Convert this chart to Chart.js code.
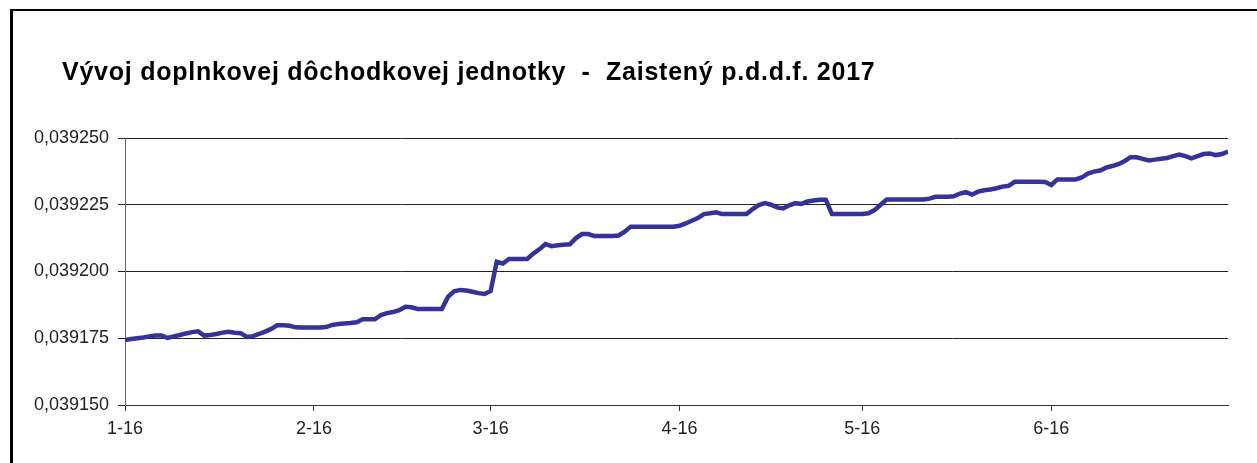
<!DOCTYPE html>
<html>
<head>
<meta charset="utf-8">
<script src="https://cdn.jsdelivr.net/npm/chart.js@4.4.1/dist/chart.umd.min.js"></script>
<style>
  html, body { margin: 0; padding: 0; background: #fff; }
  #wrap { position: relative; width: 1257px; height: 463px; overflow: hidden; }
  #frame { position: absolute; left: 10px; top: 9px; width: 1400px; height: 600px;
           border-left: 3px solid #000; border-top: 2px solid #000; pointer-events: none; }
</style>
</head>
<body>
<div id="wrap">
  <canvas id="chart" width="1257" height="463"></canvas>
  <div id="frame"></div>
</div>
<script>
/* Hodnota dôchodkovej jednotky, denne od 1.1.2016 do 30.6.2016 */
const chartTitle = 'Vývoj doplnkovej dôchodkovej jednotky  -  Zaistený p.d.d.f. 2017';
const monthLabels = ['1-16', '2-16', '3-16', '4-16', '5-16', '6-16'];
const yTicks = [0.03915, 0.039175, 0.0392, 0.039225, 0.03925];

const janValues = [
  0.0391743, 0.0391747, 0.0391750, 0.0391753, 0.0391757, 0.0391760, 0.0391760, 0.0391751,
  0.0391757, 0.0391762, 0.0391768, 0.0391773, 0.0391776, 0.0391760, 0.0391762, 0.0391766,
  0.0391771, 0.0391774, 0.0391771, 0.0391769, 0.0391755, 0.0391758, 0.0391766, 0.0391775,
  0.0391785, 0.0391799, 0.0391799, 0.0391797, 0.0391791, 0.0391790, 0.0391790
];
const febValues = [
  0.0391790, 0.0391790, 0.0391792, 0.0391800, 0.0391803, 0.0391805, 0.0391807, 0.0391810,
  0.0391821, 0.0391821, 0.0391821, 0.0391837, 0.0391844, 0.0391848, 0.0391855, 0.0391868,
  0.0391866, 0.0391860, 0.0391860, 0.0391860, 0.0391860, 0.0391860, 0.0391905, 0.0391926,
  0.0391931, 0.0391929, 0.0391924, 0.0391919, 0.0391916
];
const marValues = [
  0.0391927, 0.0392036, 0.0392030, 0.0392047, 0.0392047, 0.0392047, 0.0392047, 0.0392067,
  0.0392083, 0.0392103, 0.0392095, 0.0392098, 0.0392100, 0.0392102, 0.0392125, 0.0392140,
  0.0392140, 0.0392133, 0.0392133, 0.0392133, 0.0392133, 0.0392135, 0.0392149, 0.0392168,
  0.0392168, 0.0392168, 0.0392168, 0.0392168, 0.0392168, 0.0392168, 0.0392168
];
const aprValues = [
  0.0392171, 0.0392180, 0.0392190, 0.0392200, 0.0392215, 0.0392218, 0.0392222, 0.0392215,
  0.0392215, 0.0392215, 0.0392215, 0.0392215, 0.0392234, 0.0392249, 0.0392256, 0.0392250,
  0.0392240, 0.0392236, 0.0392248, 0.0392256, 0.0392253, 0.0392262, 0.0392266, 0.0392269,
  0.0392269, 0.0392215, 0.0392215, 0.0392215, 0.0392215, 0.0392215
];
const mayValues = [
  0.0392215, 0.0392218, 0.0392230, 0.0392250, 0.0392270, 0.0392270, 0.0392270, 0.0392270,
  0.0392270, 0.0392270, 0.0392270, 0.0392273, 0.0392280, 0.0392280, 0.0392280, 0.0392282,
  0.0392292, 0.0392297, 0.0392288, 0.0392299, 0.0392304, 0.0392307, 0.0392312, 0.0392318,
  0.0392321, 0.0392336, 0.0392336, 0.0392336, 0.0392336, 0.0392336, 0.0392335
];
const junValues = [
  0.0392324, 0.0392345, 0.0392345, 0.0392345, 0.0392345, 0.0392352, 0.0392367, 0.0392374,
  0.0392378, 0.0392389, 0.0392395, 0.0392402, 0.0392413, 0.0392428, 0.0392428, 0.0392422,
  0.0392416, 0.0392419, 0.0392422, 0.0392425, 0.0392432, 0.0392438, 0.0392432, 0.0392424,
  0.0392432, 0.0392440, 0.0392442, 0.0392436, 0.0392440, 0.0392449
];

const values = [...janValues, ...febValues, ...marValues, ...aprValues, ...mayValues, ...junValues];

// dátumy a indexy začiatkov mesiacov
const dates = values.map((v, i) => new Date(2016, 0, 1 + i));
const monthStarts = [];
dates.forEach((d, i) => { if (d.getDate() === 1) monthStarts.push(i); });

const axisFont = { family: '"Liberation Sans", Arial, sans-serif', size: 18 };

const leftTitle = {
  id: 'leftTitle',
  afterDraw(chart) {
    const ctx = chart.ctx;
    ctx.save();
    ctx.font = 'bold 25px "Liberation Sans", Arial, sans-serif';
    ctx.letterSpacing = '0.75px';
    ctx.fillStyle = '#000';
    ctx.textBaseline = 'alphabetic';
    ctx.fillText(chartTitle, 62, 80);
    ctx.restore();
  }
};

new Chart(document.getElementById('chart'), {
  type: 'line',
  data: {
    datasets: [{
      label: 'Zaistený p.d.d.f.',
      data: values.map((v, i) => ({ x: i, y: v })),
      borderColor: '#333399',
      borderWidth: 4.5,
      pointRadius: 0,
      tension: 0,
      fill: false
    }]
  },
  options: {
    responsive: false,
    animation: false,
    layout: { padding: { top: 138, right: 29, left: 0, bottom: 0 } },
    plugins: { legend: { display: false }, tooltip: { enabled: false } },
    scales: {
      x: {
        type: 'linear',
        min: 0,
        max: values.length - 1,
        afterBuildTicks: (axis) => { axis.ticks = monthStarts.map(i => ({ value: i })); },
        afterFit: (axis) => { axis.height = 58; },
        ticks: {
          callback: (val, idx) => monthLabels[idx],
          font: axisFont,
          color: '#222',
          padding: 7,
          maxRotation: 0,
          autoSkip: false
        },
        grid: { drawOnChartArea: false, drawTicks: true, tickLength: 6, color: '#333' },
        border: { color: '#333', width: 1 }
      },
      y: {
        min: 0.03915,
        max: 0.03925,
        afterBuildTicks: (axis) => { axis.ticks = yTicks.map(v => ({ value: v })); },
        afterFit: (axis) => { axis.width = 125; },
        ticks: {
          callback: (val) => val.toFixed(6).replace('.', ','),
          font: axisFont,
          color: '#222',
          padding: 9
        },
        grid: { color: '#222', lineWidth: 1, drawTicks: true, tickLength: 7 },
        border: { color: '#666', width: 1 }
      }
    }
  },
  plugins: [leftTitle]
});
</script>
</body>
</html>
